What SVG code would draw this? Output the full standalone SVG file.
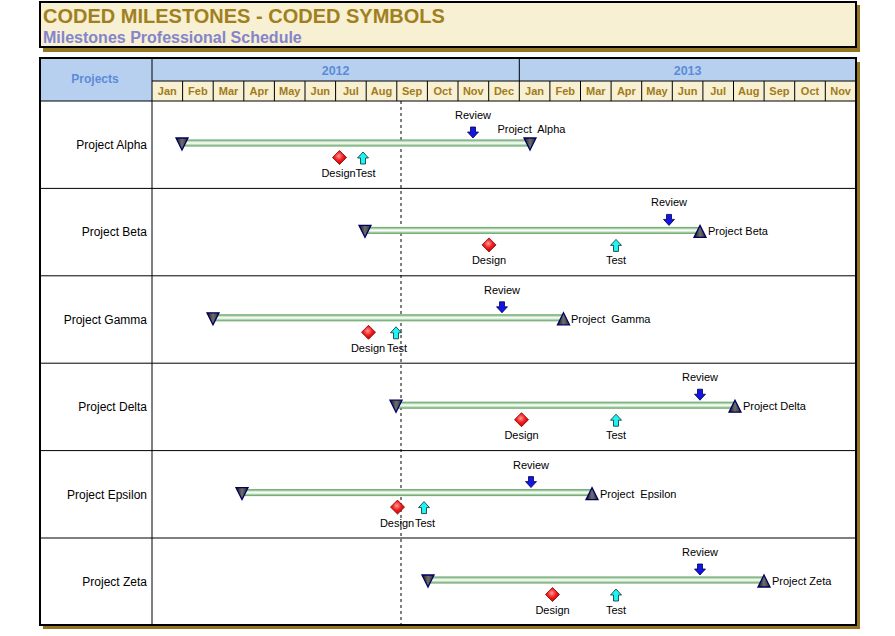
<svg xmlns="http://www.w3.org/2000/svg" xmlns:xlink="http://www.w3.org/1999/xlink" width="895" height="636" viewBox="0 0 895 636">
<defs>
<style>
text{font-family:"Liberation Sans",Arial,sans-serif;}
.title{font-size:20px;font-weight:bold;fill:#A0801E;}
.sub{font-size:16px;font-weight:bold;fill:#8484CC;}
.hdr{font-size:12px;font-weight:bold;fill:#5B8BD9;text-anchor:middle;}
.yr{font-size:12.5px;font-weight:bold;fill:#5B8BD9;text-anchor:middle;}
.mo{font-size:11px;font-weight:bold;fill:#A07A20;text-anchor:middle;}
.pn{font-size:12px;fill:#000;text-anchor:end;}
.lb{font-size:11px;fill:#000;text-anchor:middle;}
.el{font-size:11px;fill:#000;white-space:pre;}
.grid{stroke:#000;stroke-width:1;fill:none;}
.bar{fill:url(#barG);}
.tri{fill:url(#triG);stroke:#000060;stroke-width:1.3;stroke-linejoin:miter;}
.rev{fill:#1414E6;stroke:#00004A;stroke-width:0.8;}
.tst{fill:#22F2F2;stroke:#003030;stroke-width:0.8;}
.dia{fill:url(#diaG);stroke:#8A0000;stroke-width:0.8;}
</style>
<linearGradient id="barG" x1="0" y1="0" x2="0" y2="1">
<stop offset="0" stop-color="#5E9A5E"/>
<stop offset="0.18" stop-color="#94C294"/>
<stop offset="0.35" stop-color="#D6EBD6"/>
<stop offset="0.5" stop-color="#FFFFFF"/>
<stop offset="0.65" stop-color="#D6EBD6"/>
<stop offset="0.82" stop-color="#94C294"/>
<stop offset="1" stop-color="#5E9A5E"/>
</linearGradient>
<linearGradient id="triG" x1="0" y1="0" x2="1" y2="0">
<stop offset="0" stop-color="#101010"/>
<stop offset="0.5" stop-color="#6E6E6E"/>
<stop offset="1" stop-color="#2A2A2A"/>
</linearGradient>
<radialGradient id="diaG" cx="0.45" cy="0.4" r="0.6">
<stop offset="0" stop-color="#FF9A9A"/>
<stop offset="0.5" stop-color="#F02020"/>
<stop offset="1" stop-color="#C00000"/>
</radialGradient>
<path id="dn" class="tri" d="M-6,0 L6,0 L0,12 Z"/>
<path id="up" class="tri" d="M0,0 L6,12 L-6,12 Z"/>
<path id="rv" class="rev" d="M-2.5,0 H2.5 V5 H5.5 L0,11 L-5.5,5 H-2.5 Z"/>
<path id="ts" class="tst" d="M0,0 L5.5,6 H2.5 V12 H-2.5 V6 H-5.5 Z"/>
<path id="dm" class="dia" d="M0,-7 L7,0 L0,7 L-7,0 Z"/>
</defs>
<rect width="895" height="636" fill="#FFFFFF"/>

<g id="title">
<rect x="43" y="5" width="817" height="47" fill="#937524"/>
<rect x="40" y="2" width="816" height="45" fill="#F8F0D2" stroke="#000" stroke-width="2"/>
<text class="title" x="43" y="23">CODED MILESTONES - CODED SYMBOLS</text>
<text class="sub" x="43" y="43">Milestones Professional Schedule</text>
</g>

<g id="chart-frame">
<rect x="43" y="62" width="817" height="567" fill="#937524"/>
<rect x="40" y="58" width="816" height="567" fill="#FFFFFF"/>
<rect x="40" y="58" width="112" height="43" fill="#B8D0F0"/>
<rect x="152" y="58" width="704" height="23" fill="#B8D0F0"/>
<rect x="152" y="81" width="704" height="20" fill="#F8F0D2"/>
</g>

<g id="header">
<text class="hdr" x="95" y="83">Projects</text>
<text class="yr" x="335.6" y="75">2012</text>
<text class="yr" x="687.6" y="75">2013</text>
<g class="grid">
<line x1="152" y1="81" x2="856" y2="81"/>
<line x1="519.3" y1="58" x2="519.3" y2="81"/>
<path d="M182.6,81V101M213.2,81V101M243.8,81V101M274.4,81V101M305,81V101M335.6,81V101M366.2,81V101M396.8,81V101M427.4,81V101M458,81V101M488.7,81V101M519.3,81V101M549.9,81V101M580.5,81V101M611.1,81V101M641.7,81V101M672.3,81V101M702.9,81V101M733.5,81V101M764.1,81V101M794.7,81V101M825.3,81V101"/>
</g>
<text class="mo" x="167.3" y="95">Jan</text>
<text class="mo" x="197.9" y="95">Feb</text>
<text class="mo" x="228.5" y="95">Mar</text>
<text class="mo" x="259.1" y="95">Apr</text>
<text class="mo" x="289.7" y="95">May</text>
<text class="mo" x="320.3" y="95">Jun</text>
<text class="mo" x="350.9" y="95">Jul</text>
<text class="mo" x="381.5" y="95">Aug</text>
<text class="mo" x="412.1" y="95">Sep</text>
<text class="mo" x="442.7" y="95">Oct</text>
<text class="mo" x="473.3" y="95">Nov</text>
<text class="mo" x="504" y="95">Dec</text>
<text class="mo" x="534.6" y="95">Jan</text>
<text class="mo" x="565.2" y="95">Feb</text>
<text class="mo" x="595.8" y="95">Mar</text>
<text class="mo" x="626.4" y="95">Apr</text>
<text class="mo" x="657" y="95">May</text>
<text class="mo" x="687.6" y="95">Jun</text>
<text class="mo" x="718.2" y="95">Jul</text>
<text class="mo" x="748.8" y="95">Aug</text>
<text class="mo" x="779.4" y="95">Sep</text>
<text class="mo" x="810" y="95">Oct</text>
<text class="mo" x="840.6" y="95">Nov</text>
</g>

<g id="grid" class="grid">
<line x1="40" y1="101" x2="856" y2="101"/>
<line x1="40" y1="188.4" x2="856" y2="188.4"/>
<line x1="40" y1="275.8" x2="856" y2="275.8"/>
<line x1="40" y1="363.2" x2="856" y2="363.2"/>
<line x1="40" y1="450.6" x2="856" y2="450.6"/>
<line x1="40" y1="538" x2="856" y2="538"/>
<line x1="152" y1="58" x2="152" y2="625"/>
<line x1="401" y1="101" x2="401" y2="625" stroke-dasharray="3,3"/>
</g>

<g id="project-alpha" transform="translate(0,101)">
<text class="pn" x="147" y="48">Project Alpha</text>
<rect class="bar" x="182" y="38.5" width="348" height="7"/>
<use href="#dn" x="182" y="37"/>
<use href="#dn" x="530" y="37"/>
<text class="el" x="497.5" y="32">Project  Alpha</text>
<text class="lb" x="473" y="18">Review</text>
<use href="#rv" x="473" y="26"/>
<use href="#dm" x="339.5" y="56.5"/>
<use href="#ts" x="363" y="51"/>
<text class="lb" x="338.5" y="76">Design</text>
<text class="lb" x="365.5" y="76">Test</text>
</g>

<g id="project-beta" transform="translate(0,188.4)">
<text class="pn" x="147" y="48">Project Beta</text>
<rect class="bar" x="365" y="38.5" width="335" height="7"/>
<use href="#dn" x="365" y="37"/>
<use href="#up" x="700" y="37"/>
<text class="el" x="708" y="47">Project Beta</text>
<text class="lb" x="669" y="18">Review</text>
<use href="#rv" x="669" y="26"/>
<use href="#dm" x="489" y="56.5"/>
<use href="#ts" x="616" y="51"/>
<text class="lb" x="489" y="76">Design</text>
<text class="lb" x="616" y="76">Test</text>
</g>

<g id="project-gamma" transform="translate(0,275.8)">
<text class="pn" x="147" y="48">Project Gamma</text>
<rect class="bar" x="213" y="38.5" width="350" height="7"/>
<use href="#dn" x="213" y="37"/>
<use href="#up" x="563.5" y="37"/>
<text class="el" x="571" y="47">Project  Gamma</text>
<text class="lb" x="502" y="18">Review</text>
<use href="#rv" x="502" y="26"/>
<use href="#dm" x="368.5" y="56.5"/>
<use href="#ts" x="396" y="51"/>
<text class="lb" x="368" y="76">Design</text>
<text class="lb" x="397" y="76">Test</text>
</g>

<g id="project-delta" transform="translate(0,363.2)">
<text class="pn" x="147" y="48">Project Delta</text>
<rect class="bar" x="396" y="38.5" width="339" height="7"/>
<use href="#dn" x="396" y="37"/>
<use href="#up" x="735" y="37"/>
<text class="el" x="743" y="47">Project Delta</text>
<text class="lb" x="700" y="18">Review</text>
<use href="#rv" x="700" y="26"/>
<use href="#dm" x="521.5" y="56.5"/>
<use href="#ts" x="616" y="51"/>
<text class="lb" x="521.5" y="76">Design</text>
<text class="lb" x="616" y="76">Test</text>
</g>

<g id="project-epsilon" transform="translate(0,450.6)">
<text class="pn" x="147" y="48">Project Epsilon</text>
<rect class="bar" x="242" y="38.5" width="350" height="7"/>
<use href="#dn" x="242" y="37"/>
<use href="#up" x="592" y="37"/>
<text class="el" x="600" y="47">Project  Epsilon</text>
<text class="lb" x="531" y="18">Review</text>
<use href="#rv" x="531" y="26"/>
<use href="#dm" x="397.5" y="56.5"/>
<use href="#ts" x="424" y="51"/>
<text class="lb" x="397" y="76">Design</text>
<text class="lb" x="425" y="76">Test</text>
</g>

<g id="project-zeta" transform="translate(0,538)">
<text class="pn" x="147" y="48">Project Zeta</text>
<rect class="bar" x="428" y="38.5" width="336" height="7"/>
<use href="#dn" x="428" y="37"/>
<use href="#up" x="764" y="37"/>
<text class="el" x="772" y="47">Project Zeta</text>
<text class="lb" x="700" y="18">Review</text>
<use href="#rv" x="700" y="26"/>
<use href="#dm" x="552.5" y="56.5"/>
<use href="#ts" x="616" y="51"/>
<text class="lb" x="552.5" y="76">Design</text>
<text class="lb" x="616" y="76">Test</text>
</g>

<rect x="40" y="58" width="816" height="567" fill="none" stroke="#000" stroke-width="2"/>
</svg>
